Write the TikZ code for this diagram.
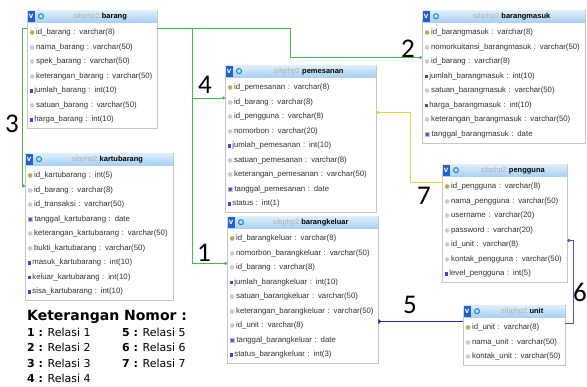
\documentclass[tikz,border=0pt]{standalone}
\usepackage{fontspec}
\setmainfont{Liberation Sans}
\newfontfamily\symf{DejaVu Sans}
\newfontfamily\legf{DejaVu Sans}
\newfontfamily\numf{Carlito}
\usepackage{tikz}
\usetikzlibrary{shapes,arrows,arrows.meta,positioning,fit}

\definecolor{relgreen}{RGB}{70,182,70}
\definecolor{relyellow}{RGB}{214,214,70}
\definecolor{relblue}{RGB}{40,40,165}
\definecolor{relpurple}{RGB}{95,75,195}
\definecolor{vblue}{RGB}{35,95,205}
\definecolor{keycol}{RGB}{190,170,90}
\definecolor{numcol}{RGB}{70,70,200}
\definecolor{rowtext}{RGB}{50,50,50}

% field icons
\newcommand{\icpk}{\textcolor{keycol}{\symf\fontsize{6}{6}\selectfont ●}}
\newcommand{\icvc}{\textcolor{gray!40}{\symf\fontsize{6}{6}\selectfont ●}}
\newcommand{\icnum}{\textcolor{numcol}{\rule{3.5pt}{3.5pt}}}
\newcommand{\icdate}{\textcolor{gray!60!blue}{\symf\fontsize{6}{6}\selectfont ▣}}

% id, x, top, width, title, rows, fields
\newcommand{\dbtable}[7]{%
	\pgfmathsetmacro{\tw}{#4-5}
	\draw[TabFrame] (#2,#3) rectangle ++(#4,15.25+14.5*#6+2);
	\node[TabHead, minimum width=#4pt] (#1-h) at (#2,#3) {\hspace*{16pt}\textcolor{gray!60}{sibphp2.}\textbf{#5}};
	\node[VBox] (#1-v) at ([xshift=0.5pt]#1-h.west) {v};
	\node[Ring] (#1-r) at ([xshift=14pt]#1-h.west) {};
	\foreach \fld/\ico [count=\k] in {#7}
		\node[TabRow, text width=\tw pt] (#1-\k) at (#2,#3+15.25+14.5*\k-7.25) {\csname ic\ico\endcsname\hspace{1.2pt}\fld};
}

\begin{document}
\begin{tikzpicture}[x=1pt, y=-1pt]
			\tikzstyle{TabFrame}	= [draw=gray!45, fill=white, line width=0.6pt]
			\tikzstyle{TabHead}	= [anchor=north west, minimum height=12pt, inner sep=0pt, top color={rgb,255:red,224;green,239;blue,251}, bottom color={rgb,255:red,168;green,208;blue,242}, font=\fontsize{7.5}{8}\selectfont]
			\tikzstyle{VBox}		= [anchor=west, fill=vblue, text=white, minimum width=7pt, minimum height=11pt, inner sep=0pt, font=\bfseries\fontsize{8}{8}\selectfont]
			\tikzstyle{Ring}		= [circle, draw=vblue!70!cyan, line width=1.1pt, minimum size=5pt, inner sep=0pt]
			\tikzstyle{TabRow}	= [anchor=west, minimum height=14.5pt, inner xsep=2.5pt, inner ysep=0pt, align=left, text=rowtext, font=\fontsize{7.8}{9}\selectfont]
			\tikzstyle{RelNum}	= [inner sep=0pt, font=\numf\fontsize{27}{27}\selectfont]
			\tikzstyle{LegTitle}	= [anchor=west, inner sep=0pt, font=\legf\bfseries\fontsize{14}{14}\selectfont]
			\tikzstyle{LegItem}	= [anchor=west, inner sep=0pt, font=\legf\fontsize{11}{11}\selectfont]
			\tikzstyle{Rel}		= [line width=0.9pt]

			\useasboundingbox (0,0) rectangle (587,387);

			\dbtable{barang}{27}{10}{130}{barang}{7}{id\_barang : varchar(8)/pk, nama\_barang : varchar(50)/vc, spek\_barang : varchar(50)/vc, keterangan\_barang : varchar(50)/vc, jumlah\_barang : int(10)/num, satuan\_barang : varchar(50)/vc, harga\_barang : int(10)/num}
			\dbtable{kartubarang}{25}{153}{148}{kartubarang}{9}{id\_kartubarang : int(5)/pk, id\_barang : varchar(8)/vc, id\_transaksi : varchar(50)/vc, tanggal\_kartubarang : date/date, keterangan\_kartubarang : varchar(50)/vc, bukti\_kartubarang : varchar(50)/vc, masuk\_kartubarang : int(10)/num, keluar\_kartubarang : int(10)/num, sisa\_kartubarang : int(10)/num}
			\dbtable{pemesanan}{225}{65}{151}{pemesanan}{9}{id\_pemesanan : varchar(8)/pk, id\_barang : varchar(8)/vc, id\_pengguna : varchar(8)/vc, nomorbon : varchar(20)/vc, jumlah\_pemesanan : int(10)/num, satuan\_pemesanan : varchar(8)/vc, keterangan\_pemesanan : varchar(50)/vc, tanggal\_pemesanan : date/date, status : int(1)/num}
			\dbtable{barangkeluar}{227}{216}{151}{barangkeluar}{9}{id\_barangkeluar : varchar(8)/pk, nomorbon\_barangkeluar : varchar(50)/vc, id\_barang : varchar(8)/vc, jumlah\_barangkeluar : int(10)/num, satuan\_barangkeluar : varchar(50)/vc, keterangan\_barangkeluar : varchar(50)/vc, id\_unit : varchar(8)/vc, tanggal\_barangkeluar : date/date, status\_barangkeluar : int(3)/num}
			\dbtable{barangmasuk}{422}{10}{163}{barangmasuk}{8}{id\_barangmasuk : varchar(8)/pk, nomorkuitansi\_barangmasuk : varchar(50)/vc, id\_barang : varchar(8)/vc, jumlah\_barangmasuk : int(10)/num, satuan\_barangmasuk : varchar(50)/vc, harga\_barangmasuk : int(10)/num, keterangan\_barangmasuk : varchar(50)/vc, tanggal\_barangmasuk : date/date}
			\dbtable{pengguna}{442}{164}{125}{pengguna}{7}{id\_pengguna : varchar(8)/pk, nama\_pengguna : varchar(50)/vc, username : varchar(20)/vc, password : varchar(20)/vc, id\_unit : varchar(8)/vc, kontak\_pengguna : varchar(50)/vc, level\_pengguna : int(5)/num}
			\dbtable{unit}{463}{305}{102}{unit}{3}{id\_unit : varchar(8)/pk, nama\_unit : varchar(50)/vc, kontak\_unit : varchar(50)/vc}

			% relations
			\coordinate (bout) at ([yshift=4pt]barang-1.east);
			\coordinate (split) at (192,0);
			\coordinate (bend2) at (290,0);
			\coordinate (p7) at ([yshift=4pt]pemesanan-3.east);
			\coordinate (bend7) at (410,0);
			\coordinate (bk5) at ([yshift=4pt]barangkeluar-7.east);
			\coordinate (pg6) at ([yshift=4pt]pengguna-5.east);

			\draw [Rel, relgreen, -{Circle[length=3pt]}] ([yshift=4pt]barang-1.west) -- ++(-5,0) |- ([yshift=4pt]kartubarang-2.west);
			\draw [Rel, relgreen, -{Circle[length=3pt]}] (bout) -- (bout -| bend2) |- ([yshift=4pt]barangmasuk-3.west);
			\draw [Rel, relgreen, -{Circle[length=3pt]}] (bout -| split) |- ([yshift=4pt]pemesanan-2.west);
			\draw [Rel, relgreen, -{Circle[length=3pt]}] (bout -| split) |- ([yshift=4pt]barangkeluar-3.west);
			\draw [Rel, relyellow, {Circle[length=3pt]}-] (p7) -- (p7 -| bend7) |- ([yshift=4pt]pengguna-1.west);
			\draw [Rel, relblue, {Triangle[reversed, length=3pt, width=5pt]}-] (bk5) -- (bk5 -| unit-1.west);
			\draw [Rel, relpurple, {Circle[length=3pt]}-] (pg6) -- ++(6,0) |- ([yshift=4pt]unit-1.east);

			\node (num1) at (204,253) [RelNum] {1};
			\node (num2) at (408,49) [RelNum] {2};
			\node (num3) at (12,124) [RelNum] {3};
			\node (num4) at (205,85) [RelNum] {4};
			\node (num5) at (410,305) [RelNum] {5};
			\node (num6) at (580,292) [RelNum] {6};
			\node (num7) at (424,196) [RelNum] {7};

			% legend
			\node (legend) at (27,317) [LegTitle] {Keterangan Nomor :};
			\foreach \n/\lx/\ly in {1/27/332, 2/27/347.5, 3/27/363, 4/27/378, 5/122/332, 6/122/347.5, 7/122/363}
				\node (leg-\n) at (\lx,\ly) [LegItem] {\textbf{\n\ :} Relasi \n};
		\end{tikzpicture}
\end{document}
